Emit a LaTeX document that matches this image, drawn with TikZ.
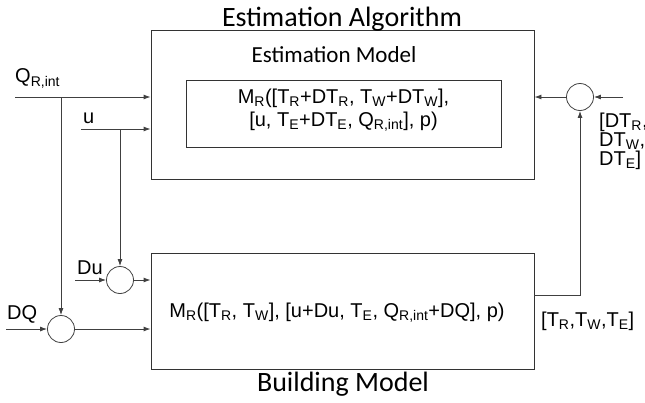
\documentclass[tikz,border=0pt]{standalone}
\usepackage{fontspec}
\setmainfont{Liberation Sans}
\newfontfamily\capfont{Carlito}
\usetikzlibrary{positioning,arrows.meta}

\newcommand{\lo}[1]{\textsubscript{#1}}

\tikzset{
  block/.style={draw=black!80, rectangle, line width=0.9pt},
  sumpt/.style={draw=black!75, circle, minimum size=27pt, inner sep=0pt, line width=0.8pt},
  sig/.style={draw=black!75, line width=0.9pt, -{Latex[length=7pt,width=5pt]}},
  lbl/.style={font=\fontsize{20}{22}\selectfont, inner sep=0pt},
  ttl/.style={font=\capfont\fontsize{28}{30}\selectfont, inner sep=0pt},
}

\begin{document}
\begin{tikzpicture}[x=1pt,y=-1pt]
\useasboundingbox (0,0) rectangle (645,402);

% the two blocks
\node[block, minimum width=383pt, minimum height=149pt] (algo) at (342.5,104.5) {};
\node[block, minimum width=315pt, minimum height=67pt] (estmodel) at (343.5,113.5) {};
\node[block, minimum width=383pt, minimum height=116pt] (building) at (342.5,311) {};

\node[ttl] (algotitle) at (342,19) {Estimation Algorithm};
\node[ttl, font=\capfont\fontsize{23}{26}\selectfont] (esttitle) at (334,55) {Estimation Model};
\node[ttl] (buildtitle) at (343,384) {Building Model};

\node[lbl, align=center] (esttext) at (343.5,110)
  {M\lo{R}([T\lo{R}+DT\lo{R}, T\lo{W}+DT\lo{W}],\\[1pt] [u, T\lo{E}+DT\lo{E}, Q\lo{R,int}], p)};
\node[lbl] (buildtext) at (337,313) {M\lo{R}([T\lo{R}, T\lo{W}], [u+Du, T\lo{E}, Q\lo{R,int}+DQ], p)};

% summing points
\node[sumpt] (sumfb) at (580,97) {};
\node[sumpt] (sumdu) at (120,280) {};
\node[sumpt] (sumdq) at (61,329) {};

% inputs
\coordinate (qin) at (15,97);
\coordinate (uin) at (81,129);
\coordinate (duin) at (75,280);
\coordinate (dqin) at (6,329);
\coordinate (dtin) at (623,97);

\node[lbl, anchor=south west] (qlbl) at (15,88) {Q\lo{R,int}};
\node[lbl, anchor=south west] (ulbl) at (83,124) {u};
\node[lbl, anchor=south west] (dulbl) at (77,275) {Du};
\node[lbl, anchor=south west] (dqlbl) at (7,323) {DQ};
\node[lbl, anchor=north west, align=left, font=\fontsize{20}{19}\selectfont] (dtlbl) at (599,113)
  {[DT\lo{R},\\ DT\lo{W},\\ DT\lo{E}]};
\node[lbl, anchor=west] (outlbl) at (541,321) {[T\lo{R},T\lo{W},T\lo{E}]};

\draw[sig] (qin) -- (qin -| algo.west);
\draw[sig] (uin) -- (uin -| algo.west);
\draw[sig] (sumdq |- qin) -- (sumdq);
\draw[sig] (sumdu |- uin) -- (sumdu);
\draw[sig] (duin) -- (sumdu);
\draw[sig] (dqin) -- (sumdq);
\draw[sig] (sumdu) -- (sumdu -| building.west);
\draw[sig] (sumdq) -- (sumdq -| building.west);

% feedback of the measured states
\coordinate (yout) at (534,295);
\draw[sig] (yout) -| (sumfb);
\draw[sig] (dtin) -- (sumfb);
\draw[sig] (sumfb) -- (sumfb -| algo.east);
\end{tikzpicture}
\end{document}
